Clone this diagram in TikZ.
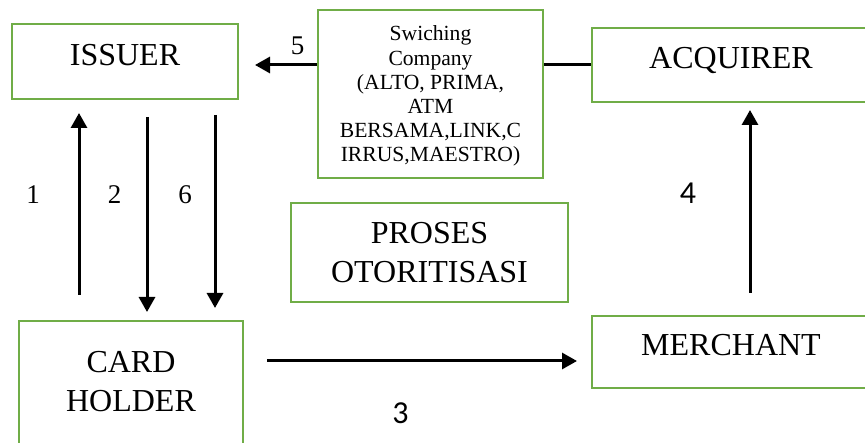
\documentclass[tikz,border=0pt]{standalone}
\usepackage{fontspec}
\setmainfont{Liberation Serif}
\newfontfamily\calibrifont{Carlito}
\usetikzlibrary{arrows.meta}
\definecolor{boxgreen}{HTML}{70AD47}

\begin{document}
\begin{tikzpicture}[x=1pt,y=-1pt]

    \tikzset{
      BoxStyle/.style = { rectangle, draw = boxgreen, line width = 2.5pt,
                          align = center, inner sep = 0pt,
                          font = \fontsize{32}{39}\selectfont },
      EdgeStyle/.style = { line width = 3pt, -{Triangle[length=15pt,width=16pt]} },
      LabelStyle/.style = { font = \fontsize{27}{32}\selectfont },
      SansLabelStyle/.style = { font = \calibrifont\fontsize{32}{38}\selectfont } }
      \useasboundingbox (0,0) rectangle (865,443);

      \node[BoxStyle, minimum width=226, minimum height=75, text depth=14pt]
        (issuer) at (125,61.5) {ISSUER};
      \node[BoxStyle, minimum width=225, minimum height=168,
            font=\fontsize{21.6}{24.2}\selectfont, text height=140pt, text depth=4pt]
        (switch) at (430.5,94) {Swiching\\Company\\(ALTO, PRIMA,\\ATM\\BERSAMA,LINK,C\\IRRUS,MAESTRO)};
      \node[BoxStyle, minimum width=278, minimum height=74, text depth=14pt]
        (acquirer) at (731,65) {ACQUIRER};
      \node[BoxStyle, minimum width=224, minimum height=130, text depth=10pt]
        (holder) at (131,386) {CARD\\HOLDER};
      \node[BoxStyle, minimum width=278, minimum height=72, text depth=14pt]
        (merchant) at (731,352) {MERCHANT};
      \node[BoxStyle, minimum width=277, minimum height=99]
        (proses) at (429.5,252.5) {PROSES\\OTORITISASI};

      % free ends of the arrows
      \coordinate (a1s) at (79,295);  \coordinate (a1e) at (79,113);
      \coordinate (a2s) at (147,117); \coordinate (a2e) at (147,312);
      \coordinate (a6s) at (215,115); \coordinate (a6e) at (215,308);
      \coordinate (a4s) at (750,293); \coordinate (a4e) at (750,110);
      \coordinate (a3s) at (267,361); \coordinate (a3e) at (577,361);
      \coordinate (a5e) at (255,65);

      \draw[EdgeStyle] ([yshift=29pt]switch.west) -- (a5e);
      \draw[line width=3pt] ([yshift=29pt]switch.east) -- (acquirer.west);
      \draw[EdgeStyle] (a1s) -- (a1e);
      \draw[EdgeStyle] (a2s) -- (a2e);
      \draw[EdgeStyle] (a6s) -- (a6e);
      \draw[EdgeStyle] (a4s) -- (a4e);
      \draw[EdgeStyle] (a3s) -- (a3e);

    \node[LabelStyle] (l1) at (33,194.5) {1};
    \node[LabelStyle] (l2) at (114.5,194.5) {2};
    \node[LabelStyle] (l6) at (185,194.5) {6};
    \node[LabelStyle] (l5) at (297.5,46) {5};
    \node[SansLabelStyle] (l4) at (688,193.5) {4};
    \node[SansLabelStyle] (l3) at (400.5,413) {3};
    \end{tikzpicture}
\end{document}
